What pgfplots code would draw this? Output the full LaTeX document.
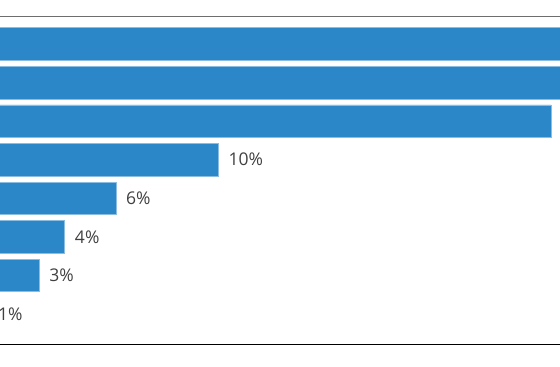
\documentclass[border=0pt]{standalone}
\usepackage{pgfplots}
\pgfplotsset{compat=1.18}
\usepackage{fontspec}
\setmainfont{Open Sans}
\definecolor{barblue}{HTML}{2B87C7}
\definecolor{labelgray}{HTML}{404040}
\definecolor{topgray}{HTML}{6E6E6E}
\begin{document}
\begin{tikzpicture}
\useasboundingbox (0,0) rectangle (560pt,367pt);
\clip (0,0) rectangle (560pt,367pt);
\begin{axis}[
  at={(-37.7pt,22.5pt)}, anchor=south west,
  scale only axis, width=627.2pt, height=328pt,
  xbar, bar width=32.5pt,
  xmin=0, xmax=24.5,
  ymin=-0.714, ymax=7.792, y dir=reverse,
  hide axis, clip=false,
  /pgf/number format/assume math mode=true,
  nodes near coords={\pgfmathprintnumber{\pgfplotspointmeta}\%},
  point meta=x,
  every node near coord/.append style={anchor=west, inner sep=0pt, xshift=10pt,
     font=\fontsize{17.5}{20}\selectfont, text=labelgray},
]
\addplot[fill=barblue, draw=barblue!55!white, line width=0.6pt] coordinates {
(28,0) (25,1) (23,2) (10,3) (6,4) (4,5) (3,6) (1,7)
};
\end{axis}
\draw[topgray, line width=1.8pt] (0,350.5pt) -- (560pt,350.5pt);
\draw[black, line width=1.4pt] (0,22.5pt) -- (560pt,22.5pt);
\end{tikzpicture}
\end{document}
